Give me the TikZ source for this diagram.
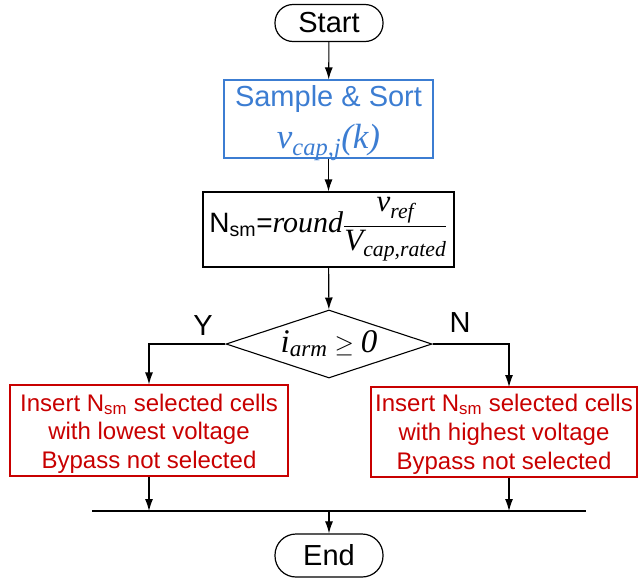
\documentclass[tikz,border=0pt]{standalone}
\usepackage{amsmath}
\usepackage{fontspec}
\setmainfont{Liberation Sans}
\newfontfamily\tms{Liberation Serif}
\newcommand{\ti}[1]{\text{\tms\itshape #1}}
\usetikzlibrary{shapes.geometric,arrows.meta}
\definecolor{blu}{RGB}{60,125,210}
\definecolor{rd}{RGB}{200,0,0}
\tikzset{
  pill/.style={draw,line width=1.2pt,rounded corners=18pt,minimum width=108pt,minimum height=37pt,inner sep=0pt,font=\fontsize{29}{30}\selectfont},
  box/.style={draw,line width=1.1pt,inner sep=0pt,align=center},
  txt/.style={inner sep=0pt,align=center},
  conn/.style={line width=1.1pt,-{Latex[length=12pt,width=8pt]}},
  plain/.style={line width=1.1pt},
  lbl/.style={font=\fontsize{29}{30}\selectfont}
}
\begin{document}
\begin{tikzpicture}[x=1pt,y=-1pt]
\useasboundingbox (0,0) rectangle (639,581);
\node[pill] (start) at (329,23) {Start};
\node[box,draw=blu,minimum width=209pt,minimum height=78pt] (samp) at (328.5,119) {};
\node[txt,text=blu,font=\fontsize{29}{42}\selectfont,yshift=-4pt] (samptxt) at (samp.center)
  {Sample \& Sort\\ {\fontsize{35}{42}\selectfont$\ti{v}_{\ti{cap,j}}\ti{(k)}$}};
\node[box,minimum width=251pt,minimum height=75pt] (nsm) at (328.5,229.5)
  {{\fontsize{28}{30}\selectfont N\textsubscript{sm}=}{\fontsize{30}{30}\selectfont\tms\itshape round}{\fontsize{31}{30}\selectfont$\dfrac{\ti{v}_{\ti{ref}}}{\ti{V}_{\ti{cap,rated}}}$}};
\node[draw,diamond,line width=1.1pt,inner sep=0pt,minimum width=206pt,minimum height=68pt,aspect=3,font=\fontsize{33}{34}\selectfont] (dec) at (329,344)
  {$\ti{i}_{\ti{arm}}\geq\ti{0}$};
\node[box,draw=rd,minimum width=278pt,minimum height=91pt] (left) at (149,430.5) {};
\node[txt,text=rd,font=\fontsize{24}{28.5}\selectfont,yshift=-3pt] (lefttxt) at (left.center)
  {Insert N\textsubscript{sm} selected cells\\ with lowest voltage\\ Bypass not selected};
\node[box,draw=rd,minimum width=266pt,minimum height=90pt] (right) at (504,432) {};
\node[txt,text=rd,font=\fontsize{24}{29}\selectfont,yshift=-2pt] (righttxt) at (right.center)
  {Insert N\textsubscript{sm} selected cells\\ with highest voltage\\ Bypass not selected};
\node[pill,minimum height=43pt,rounded corners=21pt] (end) at (329,555.5) {End};
\node[lbl] (ylab) at (203,326) {Y};
\node[lbl] (nlab) at (460,323) {N};
\coordinate (hl) at (92,511);
\coordinate (hr) at (586,511);
\coordinate (ym) at (329,511);
\coordinate (lm) at (149,511);
\coordinate (rm) at (509,511);
\coordinate (rtop) at (509,387);
\draw[conn] (start) -- (samp);
\draw[conn] (samp) -- (nsm);
\draw[conn] (nsm) -- (dec);
\draw[conn] (dec.west) -| (left.north);
\draw[conn] (dec.east) -| (rtop);
\draw[plain] (hl) -- (hr);
\draw[conn] (left.south) -- (lm);
\draw[conn] (right.south -| rm) -- (rm);
\draw[conn] (ym) -- (end);
\end{tikzpicture}
\end{document}
